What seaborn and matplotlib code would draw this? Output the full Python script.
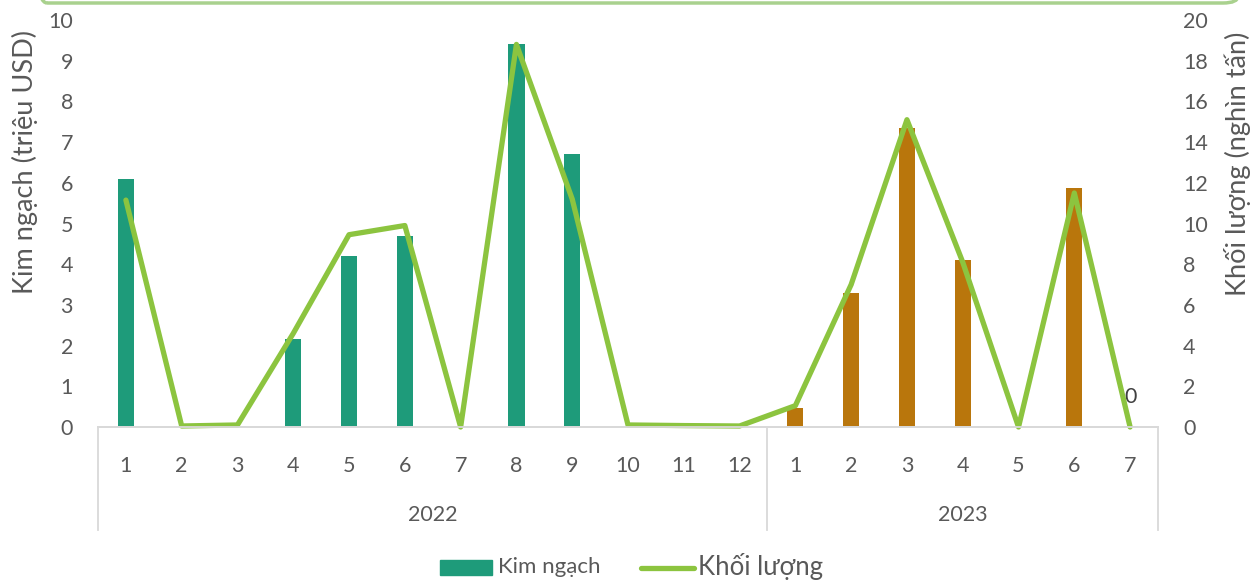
import matplotlib
matplotlib.use("Agg")
import matplotlib.pyplot as plt
import seaborn as sns
import pandas as pd
from matplotlib.patches import FancyBboxPatch, Rectangle
from matplotlib.lines import Line2D

# ---------------- data ----------------
years = ["2022", "2023"]
months_2022 = [str(m) for m in range(1, 13)]
months_2023 = [str(m) for m in range(1, 8)]
kim_ngach_2022 = [6.1, 0.02, 0.02, 2.15, 4.2, 4.7, 0.02, 9.4, 6.7, 0.02, 0.0, 0.0]
kim_ngach_2023 = [0.47, 3.3, 7.35, 4.1, 0.0, 5.87, 0.02]
khoi_luong_2022 = [11.15, 0.05, 0.1, 4.6, 9.45, 9.9, 0.0, 18.8, 11.2, 0.1, 0.07, 0.05]
khoi_luong_2023 = [1.05, 7.0, 15.1, 8.1, 0.0, 11.5, 0.0]
bar_label_text = "0"   # data label shown on the last bar

# ---------------- styles ----------------
TEAL = "#1E9B7A"
ORANGE = "#B9760C"
BLUE = "#0070C0"
LINE = "#8CC43F"
TXT = "#595959"
AXC = "#D9D9D9"

plt.rcParams["font.family"] = ["Lato", "DejaVu Sans"]

keys = [f"2022-{m}" for m in months_2022] + [f"2023-{m}" for m in months_2023]
df = pd.DataFrame({
    "key": keys,
    "month": months_2022 + months_2023,
    "year": ["2022"] * len(months_2022) + ["2023"] * len(months_2023),
    "kim_ngach": kim_ngach_2022 + kim_ngach_2023,
    "khoi_luong": khoi_luong_2022 + khoi_luong_2023,
})
df["pos"] = range(len(df))
colors = [TEAL] * len(months_2022) + [ORANGE] * (len(months_2023) - 1) + [BLUE]
palette = dict(zip(keys, colors))

fig = plt.figure(figsize=(12.52, 5.82), dpi=100)
W, H = 1252, 582
ax = fig.add_axes([98 / W, (582 - 427) / H, (1158 - 98) / W, (427 - 20) / H])

sns.barplot(data=df, x="key", y="kim_ngach", hue="key", palette=palette,
            order=keys, hue_order=keys, dodge=False, width=0.29,
            legend=False, ax=ax, saturation=1)
ax.set_xlim(-0.5, len(keys) - 0.5)
ax.set_ylim(0, 10)
ax.set_yticks(range(0, 11))
ax.set_xlabel("")
ax.set_ylabel("Kim ngạch (triệu USD)", color=TXT, fontsize=19.5)
ax.yaxis.set_label_coords(-0.0565, 0.651)

ax2 = ax.twinx()
sns.lineplot(data=df, x="pos", y="khoi_luong", color=LINE, linewidth=3.8,
             ax=ax2, solid_joinstyle="round", solid_capstyle="round", clip_on=False)
ax2.set_ylim(0, 20)
ax2.set_yticks(range(0, 21, 2))
ax2.set_xlim(-0.5, len(keys) - 0.5)
ax2.set_ylabel("Khối lượng (nghìn tấn)", color=TXT, fontsize=19.5)
ax2.yaxis.set_label_coords(1.062, 0.646)
ax2.set_xlabel("")

for a in (ax, ax2):
    for s in ["top", "left", "right"]:
        a.spines[s].set_visible(False)
    a.spines["bottom"].set_color(AXC)
    a.spines["bottom"].set_linewidth(1.3)
    a.tick_params(axis="y", length=0, labelsize=15.5, labelcolor=TXT, pad=18)
    a.grid(False)

ax.set_xticks(range(len(keys)))
ax.set_xticklabels(df["month"])
ax.tick_params(axis="x", length=0, labelsize=15.5, labelcolor=TXT, pad=21)
ax2.tick_params(axis="x", length=0, labelbottom=False)

# data label on last bar
last = df.iloc[-1]
ax.annotate(bar_label_text, (last["pos"], last["kim_ngach"]), xytext=(0, 14),
            textcoords="offset points", ha="center", va="bottom",
            fontsize=15.5, color="#404040")

# multi-level category axis
trans = ax.get_xaxis_transform()
dy = -(530 - 427) / (427 - 20)
bounds = [-0.5, len(months_2022) - 0.5, len(keys) - 0.5]
for b in bounds:
    ax.plot([b, b], [0, dy], transform=trans, color=AXC, lw=1.3, clip_on=False)
for i, yr in enumerate(years):
    mid = (bounds[i] + bounds[i + 1]) / 2
    ax.text(mid, -(515 - 427) / (427 - 20), yr, transform=trans, ha="center",
            va="center", fontsize=15.5, color=TXT)

# legend
fig.add_artist(Rectangle((440 / W, (582 - 575) / H), 52 / W, 15 / H,
                         transform=fig.transFigure, color=TEAL))
fig.text(498 / W, (582 - 567) / H, "Kim ngạch", fontsize=16, color=TXT,
         va="center", ha="left")
fig.add_artist(Line2D([641 / W, 694 / W], [(582 - 568) / H] * 2,
                      transform=fig.transFigure, color=LINE, lw=3.8,
                      solid_capstyle="round"))
fig.text(698 / W, (582 - 567) / H, "Khối lượng", fontsize=18.5, color=TXT,
         va="center", ha="left")

# top rounded frame (partially outside the canvas)
fig.add_artist(FancyBboxPatch((32 / W, (582 - 3) / H), (1238 - 32) / W, 0.2,
                              boxstyle="round,pad=0,rounding_size=0.012",
                              transform=fig.transFigure, fill=False,
                              edgecolor="#A9D18E", lw=2.5))

fig.savefig("out.png", dpi=100)
